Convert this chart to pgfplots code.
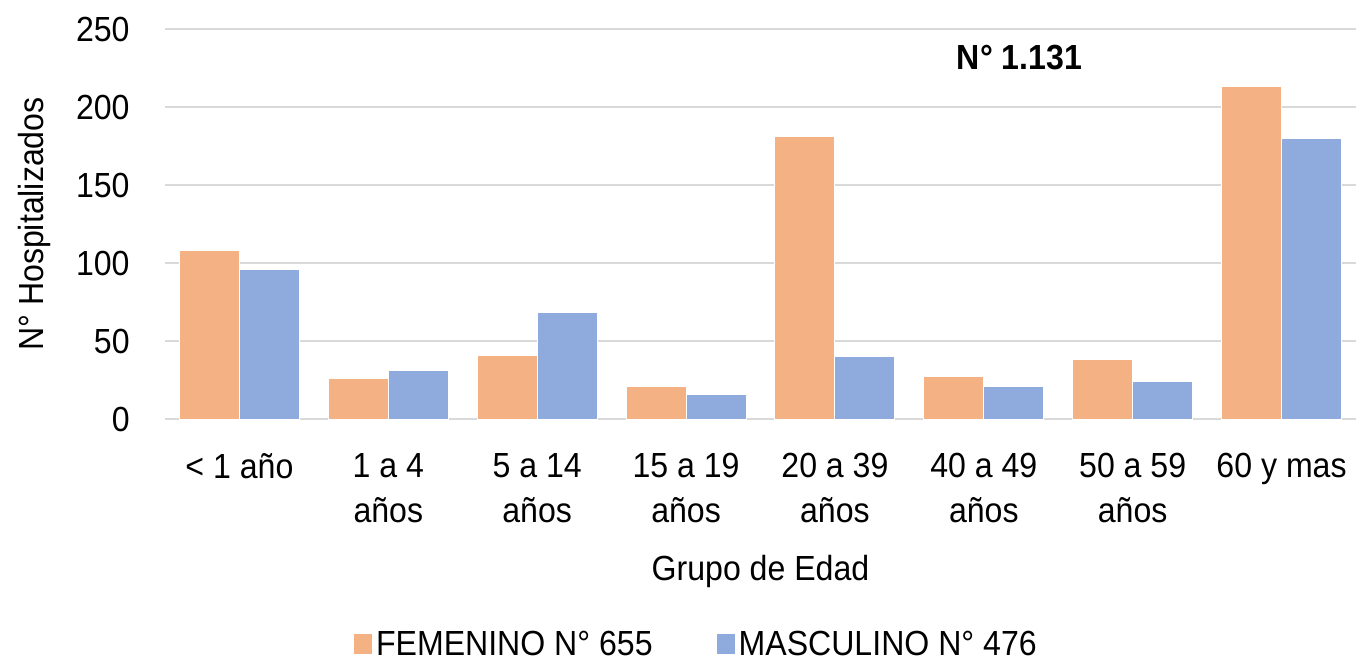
\documentclass[border=0pt]{standalone}
\usepackage{fontspec}
\setmainfont{Liberation Sans}[FakeStretch=0.92]
\usepackage{pgfplots}
\pgfplotsset{compat=1.18}
\definecolor{fem}{HTML}{F4B183}
\definecolor{mas}{HTML}{8FAADC}
\definecolor{gridc}{HTML}{D9D9D9}
\begin{document}
\begin{tikzpicture}
\useasboundingbox (-82.5bp,-122.5bp) rectangle (595.5bp,209.5bp);
\begin{axis}[
  scale only axis, width=595.5bp, height=195bp,
  ybar=0pt, bar width=30bp,
  xmin=-0.5, xmax=7.5, ymin=0, ymax=250,
  xtick={0,1,2,3,4,5,6,7},
  xticklabels={{< 1 año},{1 a 4\\años},{5 a 14\\años},{15 a 19\\años},{20 a 39\\años},{40 a 49\\años},{50 a 59\\años},{60 y mas}},
  ytick={0,50,100,150,200,250},
  ymajorgrids, grid style={gridc, line width=1bp},
  axis lines*=left,
  y axis line style={draw=none},
  x axis line style={gridc, line width=1bp},
  major tick length=0pt,
  /pgf/number format/assume math mode=true,
  font=\fontsize{17.5}{22.5}\selectfont,
  yticklabel style={inner sep=0pt, xshift=-17.5bp},
  xticklabel style={align=center, inner sep=0pt, yshift=-17bp},
  xlabel={Grupo de Edad},
  xlabel style={at={(axis description cs:0.5,0)}, anchor=base, yshift=-80.5bp},
  ylabel={N° Hospitalizados},
  ylabel style={at={(axis description cs:-0.1092,0.5)}, anchor=center},
  legend style={at={(axis description cs:0.447,-0.578)}, anchor=center, draw=none, fill=none,
    legend columns=2, font=\fontsize{17.5}{22.5}\selectfont,
    /tikz/every even column/.append style={column sep=30bp}},
  legend image code/.code={\fill[#1,draw=none] (-1bp,-5bp) rectangle (8bp,5bp);},
]
\addplot[fill=fem, draw=white, line width=0.5bp] coordinates {(0,108) (1,26) (2,41) (3,21) (4,181) (5,27) (6,38) (7,213)};
\addplot[fill=mas, draw=white, line width=0.5bp] coordinates {(0,96) (1,31) (2,68) (3,16) (4,40) (5,21) (6,24) (7,180)};
\legend{FEMENINO N° 655, MASCULINO N° 476}
\node[font=\fontsize{17.5}{22.5}\selectfont\bfseries] at (axis cs:5.24,232) {N° 1.131};
\end{axis}
\end{tikzpicture}
\end{document}
